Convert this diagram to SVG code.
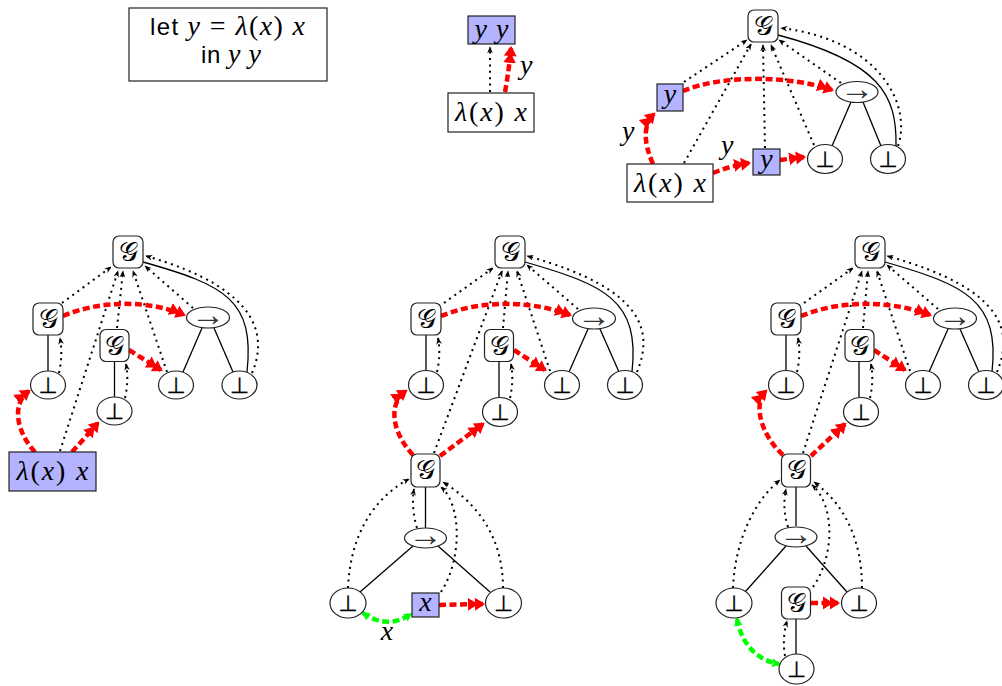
<svg xmlns="http://www.w3.org/2000/svg" width="1002" height="686" viewBox="0 0 1002 686">
<style>
.nd{fill:#fff;stroke:#222;stroke-width:1.2}
.bl{fill:#b3b3ff;stroke:#222;stroke-width:1.2}
.dt{fill:none;stroke:#000;stroke-width:2;stroke-dasharray:2 4.4;marker-end:url(#ad)}
.so{fill:none;stroke:#000;stroke-width:1.3}
.rd{fill:none;stroke:#f00;stroke-width:4.5;stroke-dasharray:7 3.5;marker-end:url(#ar)}
.gr{fill:none;stroke:#0f0;stroke-width:4.5;stroke-dasharray:7 3.5;marker-start:url(#ag);marker-end:url(#ag)}
.m{font-family:"Liberation Serif","DejaVu Serif",serif;font-size:28px;fill:#000}
.i{font-style:italic}
.g{font-family:"DejaVu Serif","DejaVu Sans","Noto Sans",serif;font-size:27px;text-anchor:middle;fill:#000}
.b{font-family:"DejaVu Sans",sans-serif;font-size:22px;text-anchor:middle;fill:#000;stroke:#000;stroke-width:0.3}
.a{font-family:"Liberation Serif","DejaVu Serif",serif;font-size:34px;text-anchor:middle;fill:#333}
.s{font-family:"Liberation Sans",sans-serif;font-size:24px;fill:#000}
.c{text-anchor:middle}
</style>
<defs>
<marker id="ad" viewBox="0 0 10 10" refX="9" refY="5" markerWidth="7" markerHeight="7" markerUnits="userSpaceOnUse" orient="auto"><path d="M0,1 L10,5 L0,9 L3,5 z" fill="#000"/></marker>
<marker id="ar" viewBox="0 0 18 14" refX="15" refY="7" markerWidth="18" markerHeight="14" markerUnits="userSpaceOnUse" orient="auto"><path d="M0,0.5 L10,7 L0,13.5 z M7,0.5 L17,7 L7,13.5 z" fill="#f00"/></marker>
<marker id="ag" viewBox="0 0 10 10" refX="8" refY="5" markerWidth="9" markerHeight="10" markerUnits="userSpaceOnUse" orient="auto-start-reverse"><path d="M0,0 L10,5 L0,10 L2,5 z" fill="#0f0"/></marker>
</defs>

<g id="connectors">
<!-- panel 1 -->
<path class="dt" d="M490,92 L490,47"/>
<path class="rd" d="M505,92 Q509,70 511,48"/>
<!-- panel 2 -->
<path class="dt" d="M684,82 L747,40"/>
<path class="dt" d="M684,163 L751,44"/>
<path class="dt" d="M765,148 L763,45"/>
<path class="dt" d="M814,145 L771,45"/>
<path class="dt" d="M841,83 L779,40"/>
<path class="dt" d="M898,146 C912,105 880,40 781,28"/>
<path class="so" d="M778,35 C880,62 897,95 896,146"/>
<path class="so" d="M851,102 L832,146"/>
<path class="so" d="M863,102 L881,146"/>
<path class="rd" d="M653,164 Q638,130 654,114"/>
<path class="rd" d="M713,173 Q730,166 749,163"/>
<path class="rd" d="M780,160 L804,157"/>
<path class="rd" d="M683,91 C720,75 790,75 832,90"/>
<!-- panel 3 -->
<path class="dt" d="M62,303 L111,267"/>
<path class="dt" d="M60,451 L118,271"/>
<path class="dt" d="M117,328 L123,271"/>
<path class="dt" d="M167,372 L133,271"/>
<path class="dt" d="M193,308 L145,266"/>
<path class="dt" d="M252,373 C266,340 265,290 146,256"/>
<path class="so" d="M143,262 C225,285 255,300 247,372"/>
<path class="so" d="M202,328 L183,372"/>
<path class="so" d="M214,328 L233,372"/>
<path class="so" d="M48,335 L48,371"/>
<path class="dt" d="M59,373 Q63,355 60,338"/>
<path class="so" d="M114.5,362 L114.5,397"/>
<path class="dt" d="M125,398 Q129,380 126,364"/>
<path class="rd" d="M63,316 C100,300 150,300 184,315"/>
<path class="rd" d="M129,350 L161,370"/>
<path class="rd" d="M35,452 C18,434 10,405 29,391"/>
<path class="rd" d="M72,452 L98,423"/>
<!-- panel 4 top -->
<path class="dt" d="M444,303 L493,268"/>
<path class="dt" d="M434,453 L502,271"/>
<path class="dt" d="M503,328 L508,271"/>
<path class="dt" d="M550,371 L517,271"/>
<path class="dt" d="M578,309 L527,265"/>
<path class="dt" d="M637,372 C652,335 650,290 527,256"/>
<path class="so" d="M525,262 C605,285 640,300 632,372"/>
<path class="so" d="M588,329 L569,372"/>
<path class="so" d="M600,329 L619,372"/>
<path class="so" d="M426,335 L426,370"/>
<path class="dt" d="M437,372 Q441,354 438,338"/>
<path class="so" d="M499,362 L499,397"/>
<path class="dt" d="M510,398 Q514,380 511,364"/>
<path class="rd" d="M441,316 C480,300 530,300 570,315"/>
<path class="rd" d="M514,350 L545,370"/>
<path class="rd" d="M413,455 C394,435 386,405 406,391"/>
<path class="rd" d="M440,456 L483,424"/>
<!-- panel 4 bottom -->
<path class="so" d="M425.5,487 L425.5,528"/>
<path class="dt" d="M417,528 Q411,508 414,489"/>
<path class="dt" d="M348,588 C350,540 370,500 409,479"/>
<path class="dt" d="M441,592 C462,560 462,505 441,487"/>
<path class="dt" d="M503,588 C503,540 480,505 443,482"/>
<path class="so" d="M413,546 L360,592"/>
<path class="so" d="M438,546 L490,592"/>
<path class="rd" d="M439,605 L483,604"/>
<path class="gr" d="M363,613 Q387,630 411,614"/>
<!-- panel 5 top -->
<path class="dt" d="M804,303 L853,268"/>
<path class="dt" d="M803,453 L862,271"/>
<path class="dt" d="M863,328 L868,271"/>
<path class="dt" d="M910,371 L877,271"/>
<path class="dt" d="M938,309 L887,265"/>
<path class="dt" d="M997,372 C1012,335 1010,290 887,256"/>
<path class="so" d="M885,262 C965,285 1000,300 992,372"/>
<path class="so" d="M948,329 L929,372"/>
<path class="so" d="M960,329 L979,372"/>
<path class="so" d="M786,335 L786,370"/>
<path class="dt" d="M797,372 Q801,354 798,338"/>
<path class="so" d="M859,362 L859,397"/>
<path class="dt" d="M870,398 Q874,380 871,364"/>
<path class="rd" d="M801,316 C840,300 890,300 930,315"/>
<path class="rd" d="M874,350 L905,370"/>
<path class="rd" d="M783,455 C762,436 752,405 766,391"/>
<path class="rd" d="M811,456 L845,424"/>
<!-- panel 5 bottom -->
<path class="so" d="M796,487 L796,526"/>
<path class="dt" d="M788,527 Q782,508 786,489"/>
<path class="dt" d="M733,588 C735,540 755,500 780,480"/>
<path class="dt" d="M813,587 C835,555 835,505 812,485"/>
<path class="dt" d="M862,588 C862,540 845,505 814,482"/>
<path class="so" d="M786,546 L745,592"/>
<path class="so" d="M806,546 L847,592"/>
<path class="rd" d="M811,603 L838,603"/>
<path class="so" d="M796,619 L796,654"/>
<path class="dt" d="M785,656 Q782,638 787,621"/>
<path class="gr" d="M737,619 C742,645 757,660 779,664"/>
</g>

<!-- edge labels -->
<g id="labels">
<text class="m i" x="520" y="74">y</text>
<text class="m i" x="622" y="140">y</text>
<text class="m i" x="721" y="154">y</text>
<text class="m i c" x="387" y="640">x</text>
</g>

<!-- panel 0 -->
<g id="p0-box">
<rect class="nd" x="129" y="8" width="198" height="73"/>
<text x="227.5" y="35" text-anchor="middle" textLength="155" lengthAdjust="spacing"><tspan class="s">let </tspan><tspan class="m i">y</tspan><tspan class="m"> = </tspan><tspan class="m i">λ</tspan><tspan class="m">(</tspan><tspan class="m i">x</tspan><tspan class="m">) </tspan><tspan class="m i">x</tspan></text>
<text x="231" y="63" text-anchor="middle" textLength="60" lengthAdjust="spacing"><tspan class="s">in </tspan><tspan class="m i">y y</tspan></text>
</g>

<!-- panel 1 -->
<g id="p1-yy"><rect class="bl" x="468" y="16" width="47" height="28"/><text class="m i c" x="491.5" y="38" textLength="34" lengthAdjust="spacing">y y</text></g>
<g id="p1-lam"><rect class="nd" x="448" y="93" width="86" height="39"/><text class="m c" x="491" y="121" textLength="72" lengthAdjust="spacing"><tspan class="i">λ</tspan>(<tspan class="i">x</tspan>) <tspan class="i">x</tspan></text></g>

<!-- panel 2 -->
<g id="p2-G"><rect class="nd" x="748" y="10" width="30" height="32" rx="6"/><text class="g" x="763" y="35">𝒢</text></g>
<g id="p2-yL"><rect class="bl" x="657" y="84" width="26" height="27"/><text class="m i c" x="670" y="103">y</text></g>
<g id="p2-arr"><ellipse class="nd" cx="857" cy="92" rx="21" ry="10.5"/><text class="a" x="857" y="100">→</text></g>
<g id="p2-bot1"><ellipse class="nd" cx="825" cy="159" rx="17.5" ry="14.5"/><text class="b" x="825" y="167">⊥</text></g>
<g id="p2-bot2"><ellipse class="nd" cx="888" cy="159" rx="17.5" ry="14.5"/><text class="b" x="888" y="167">⊥</text></g>
<g id="p2-yM"><rect class="bl" x="753" y="149" width="27" height="26"/><text class="m i c" x="766.5" y="168">y</text></g>
<g id="p2-lam"><rect class="nd" x="627" y="164" width="86" height="38"/><text class="m c" x="670" y="192" textLength="72" lengthAdjust="spacing"><tspan class="i">λ</tspan>(<tspan class="i">x</tspan>) <tspan class="i">x</tspan></text></g>

<!-- panel 3 -->
<g id="p3-Gt"><rect class="nd" x="113" y="236" width="30" height="32" rx="6"/><text class="g" x="128" y="261">𝒢</text></g>
<g id="p3-Gl"><rect class="nd" x="33" y="303" width="30" height="32" rx="6"/><text class="g" x="48" y="328">𝒢</text></g>
<g id="p3-Gm"><rect class="nd" x="100" y="329.5" width="29" height="32" rx="6"/><text class="g" x="114.5" y="354.5">𝒢</text></g>
<g id="p3-arr"><ellipse class="nd" cx="208" cy="317.5" rx="21.5" ry="10.5"/><text class="a" x="208" y="325.5">→</text></g>
<g id="p3-ba"><ellipse class="nd" cx="48" cy="385" rx="17.5" ry="14"/><text class="b" x="48" y="393">⊥</text></g>
<g id="p3-bb"><ellipse class="nd" cx="114.5" cy="411" rx="17.5" ry="14"/><text class="b" x="114.5" y="419">⊥</text></g>
<g id="p3-bc"><ellipse class="nd" cx="176" cy="385" rx="17.5" ry="14"/><text class="b" x="176" y="393">⊥</text></g>
<g id="p3-bd"><ellipse class="nd" cx="239.5" cy="385" rx="17.5" ry="14"/><text class="b" x="239.5" y="393">⊥</text></g>
<g id="p3-lam"><rect class="bl" x="9" y="452" width="87" height="39"/><text class="m c" x="52.5" y="480" textLength="72" lengthAdjust="spacing"><tspan class="i">λ</tspan>(<tspan class="i">x</tspan>) <tspan class="i">x</tspan></text></g>

<!-- panel 4 -->
<g id="p4-Gt"><rect class="nd" x="495" y="236" width="30" height="32" rx="6"/><text class="g" x="510" y="261">𝒢</text></g>
<g id="p4-Gl"><rect class="nd" x="411" y="303" width="30" height="32" rx="6"/><text class="g" x="426" y="328">𝒢</text></g>
<g id="p4-Gm"><rect class="nd" x="484.5" y="329.5" width="29" height="32" rx="6"/><text class="g" x="499" y="354.5">𝒢</text></g>
<g id="p4-arr"><ellipse class="nd" cx="594" cy="318.5" rx="21.5" ry="10.5"/><text class="a" x="594" y="326.5">→</text></g>
<g id="p4-ba"><ellipse class="nd" cx="426" cy="385" rx="17.5" ry="14.5"/><text class="b" x="426" y="393">⊥</text></g>
<g id="p4-bb"><ellipse class="nd" cx="500" cy="412" rx="17.5" ry="14.5"/><text class="b" x="500" y="420">⊥</text></g>
<g id="p4-bc"><ellipse class="nd" cx="562" cy="385" rx="17.5" ry="14.5"/><text class="b" x="562" y="393">⊥</text></g>
<g id="p4-bd"><ellipse class="nd" cx="625" cy="385" rx="17.5" ry="14.5"/><text class="b" x="625" y="393">⊥</text></g>
<g id="p4-Gb"><rect class="nd" x="411" y="454" width="29" height="33" rx="6"/><text class="g" x="425.5" y="479">𝒢</text></g>
<g id="p4-arrb"><ellipse class="nd" cx="425.5" cy="538" rx="21" ry="10"/><text class="a" x="425.5" y="546">→</text></g>
<g id="p4-bL"><ellipse class="nd" cx="348" cy="603" rx="18" ry="15"/><text class="b" x="348" y="611">⊥</text></g>
<g id="p4-x"><rect class="bl" x="412" y="593" width="27" height="24"/><text class="m i c" x="425.5" y="611">x</text></g>
<g id="p4-bR"><ellipse class="nd" cx="503.5" cy="603" rx="18" ry="15"/><text class="b" x="503.5" y="611">⊥</text></g>

<!-- panel 5 -->
<g id="p5-Gt"><rect class="nd" x="855" y="236" width="30" height="32" rx="6"/><text class="g" x="870" y="261">𝒢</text></g>
<g id="p5-Gl"><rect class="nd" x="771" y="303" width="30" height="32" rx="6"/><text class="g" x="786" y="328">𝒢</text></g>
<g id="p5-Gm"><rect class="nd" x="845" y="329.5" width="29" height="32" rx="6"/><text class="g" x="859.5" y="354.5">𝒢</text></g>
<g id="p5-arr"><ellipse class="nd" cx="955" cy="318.5" rx="21.5" ry="10.5"/><text class="a" x="955" y="326.5">→</text></g>
<g id="p5-ba"><ellipse class="nd" cx="786" cy="385" rx="17.5" ry="14.5"/><text class="b" x="786" y="393">⊥</text></g>
<g id="p5-bb"><ellipse class="nd" cx="861" cy="412" rx="17.5" ry="14.5"/><text class="b" x="861" y="420">⊥</text></g>
<g id="p5-bc"><ellipse class="nd" cx="923" cy="385" rx="17.5" ry="14.5"/><text class="b" x="923" y="393">⊥</text></g>
<g id="p5-bd"><ellipse class="nd" cx="986" cy="385" rx="17.5" ry="14.5"/><text class="b" x="986" y="393">⊥</text></g>
<g id="p5-Gb"><rect class="nd" x="781.5" y="454" width="29" height="33" rx="6"/><text class="g" x="796" y="479">𝒢</text></g>
<g id="p5-arrb"><ellipse class="nd" cx="796" cy="537" rx="21" ry="10"/><text class="a" x="796" y="545">→</text></g>
<g id="p5-bL"><ellipse class="nd" cx="734" cy="603" rx="18" ry="15"/><text class="b" x="734" y="611">⊥</text></g>
<g id="p5-Gs"><rect class="nd" x="781.5" y="587" width="29" height="32" rx="6"/><text class="g" x="796" y="612">𝒢</text></g>
<g id="p5-bR"><ellipse class="nd" cx="859" cy="603" rx="17.5" ry="15"/><text class="b" x="859" y="611">⊥</text></g>
<g id="p5-bB"><ellipse class="nd" cx="796.5" cy="669" rx="17.5" ry="15"/><text class="b" x="796.5" y="677">⊥</text></g>
</svg>
